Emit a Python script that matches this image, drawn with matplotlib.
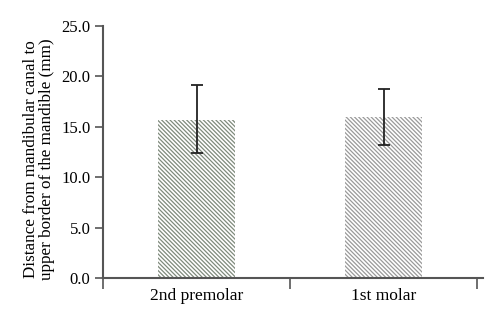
import matplotlib
matplotlib.use('Agg')
import matplotlib.pyplot as plt

# teeth groups and measured distances (mm)
groups = ['2nd premolar', '1st molar']
means = [15.7, 15.95]
err_low = [3.3, 2.75]
err_high = [3.45, 2.8]
yticks = [0, 5, 10, 15, 20, 25]
hatch_cols = ['#7f8a7c', '#9a9a9a']

plt.rcParams['font.family'] = ['Liberation Serif', 'DejaVu Serif']
plt.rcParams['hatch.linewidth'] = 0.9

fig = plt.figure(figsize=(5, 3.27), dpi=100)
ax = fig.add_axes([0.206, 0.1498, 0.76, 0.7707])

spine_col = '#555555'
x = [i + 0.5 for i in range(len(groups))]
for xi, m, lo, hi, hc in zip(x, means, err_low, err_high, hatch_cols):
    ax.bar(xi, m, width=0.41, color='white', edgecolor=hc, linewidth=0,
           hatch='\\' * 8, zorder=1)
    ax.errorbar(xi, m, yerr=[[lo], [hi]], fmt='none', ecolor='#222222',
                elinewidth=1.3, capsize=4.5, capthick=1.3, zorder=3)

ax.set_xlim(0, 2.03)
ax.set_ylim(0, 25)
ax.set_yticks(yticks)
ax.set_yticklabels(['%.1f' % v for v in yticks], fontsize=12)

# category labels between the boundary ticks
ax.set_xticks([0, 1, 2])
ax.set_xticklabels([])
ax.set_xticks(x, minor=True)
ax.set_xticklabels(groups, minor=True, fontsize=12.5)
ax.tick_params(axis='x', which='minor', length=0, pad=7)
ax.tick_params(axis='x', which='major', length=8, width=1.2, color=spine_col)
ax.tick_params(axis='y', length=6, width=1.2, color=spine_col, pad=3)

ax.set_ylabel('Distance from mandibular canal to\nupper border of the mandible (mm)',
              fontsize=12.3, linespacing=1.05)
ax.yaxis.set_label_coords(-0.125, 0.47)

for s in ['top', 'right']:
    ax.spines[s].set_visible(False)
for s in ['left', 'bottom']:
    ax.spines[s].set_color(spine_col)
    ax.spines[s].set_linewidth(1.5)

fig.savefig('out.png', dpi=100)
